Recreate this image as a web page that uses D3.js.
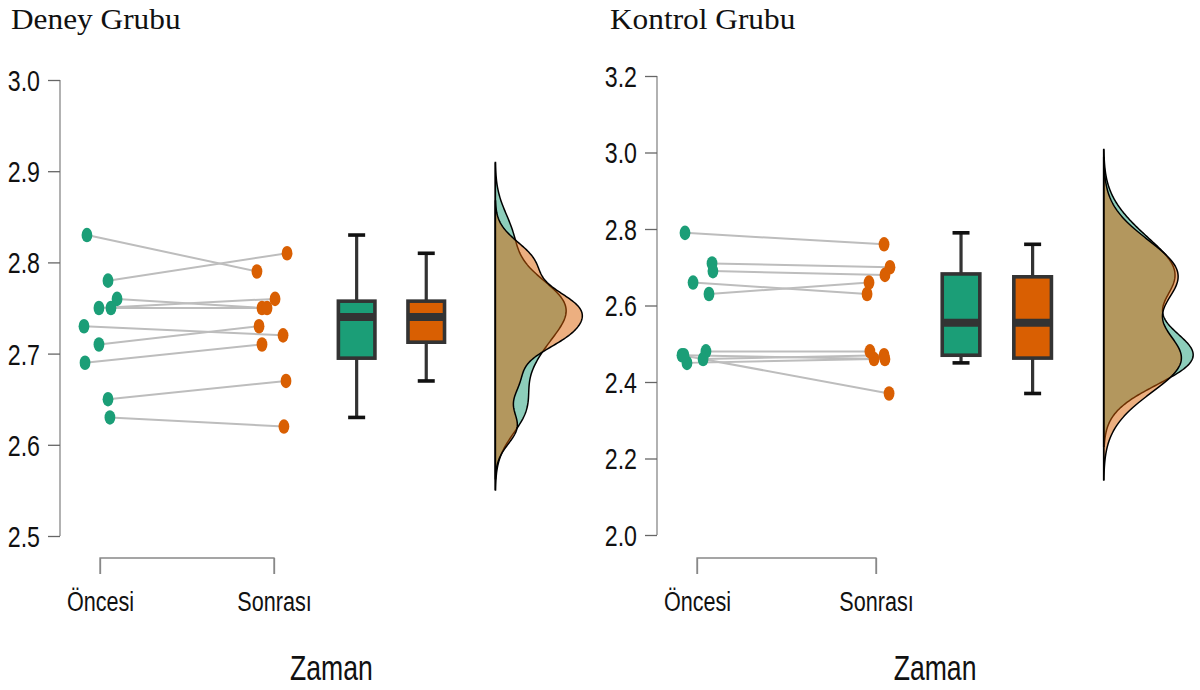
<!DOCTYPE html>
<html>
<head>
<meta charset="utf-8">
<script src="https://cdn.jsdelivr.net/npm/d3@7"></script>
<style>
  body { margin: 0; background: #fff; }
  svg { display: block; }
</style>
</head>
<body>
<svg id="chart" width="1200" height="690"></svg>
<script>
// values
const times = ["Öncesi", "Sonrası"]
const titles = ["Deney Grubu", "Kontrol Grubu"]

const deneyOncesi = [2.83, 2.78, 2.76, 2.75, 2.75, 2.73, 2.71, 2.69, 2.65, 2.63]
const deneySonrasi = [2.79, 2.81, 2.75, 2.76, 2.75, 2.72, 2.73, 2.71, 2.67, 2.62]
const kontrolOncesi = [2.79, 2.71, 2.69, 2.66, 2.63, 2.47, 2.45, 2.48, 2.46, 2.47]
const kontrolSonrasi = [2.76, 2.70, 2.68, 2.63, 2.66, 2.37, 2.46, 2.48, 2.47, 2.46]

const deneyTicks = [2.5, 2.6, 2.7, 2.8, 2.9, 3.0]
const kontrolTicks = [2.0, 2.2, 2.4, 2.6, 2.8, 3.0, 3.2]

// horizontal jitter of the dots (in units of the Öncesi→Sonrası distance)
const deneyJitOncesi = [-0.075, 0.046, 0.098, -0.006, 0.063, -0.092, -0.006, -0.086, 0.046, 0.057]
const deneyJitSonrasi = [-0.098, 0.075, -0.069, 0.006, -0.040, 0.052, -0.086, -0.069, 0.069, 0.057]
const kontrolJitOncesi = [-0.067, 0.084, 0.089, -0.022, 0.067, -0.084, -0.056, 0.050, 0.034, -0.073]
const kontrolJitSonrasi = [0.045, 0.078, 0.050, -0.050, -0.039, 0.073, -0.011, -0.034, 0.045, 0.050]

const colors = ["#1b9e77", "#d95f02"]
const sansFont = "'Liberation Sans', Arial, sans-serif"
const narrow = 0.8

const svg = d3.select("#chart")

// squash text horizontally (the original is a narrow grotesque)
function squash(sel, f) {
    sel.each(function () {
        const w = this.getComputedTextLength()
        d3.select(this).attr("textLength", w * f).attr("lengthAdjust", "spacingAndGlyphs")
    })
}

// gaussian kde, R's bw.nrd0 and cut = 3
function kde(values) {
    const v = values.slice().sort(d3.ascending)
    const n = v.length
    const iqr = d3.quantile(v, 0.75) - d3.quantile(v, 0.25)
    const bw = 0.9 * Math.min(d3.deviation(v), iqr / 1.34) * Math.pow(n, -0.2)
    const lo = v[0] - 3 * bw, hi = v[n - 1] + 3 * bw
    const pts = []
    for (let i = 0; i <= 256; i++) {
        const t = lo + (hi - lo) * i / 256
        const s = d3.sum(v, x => Math.exp(-0.5 * ((t - x) / bw) ** 2))
        pts.push([t, s / (n * bw * Math.sqrt(2 * Math.PI))])
    }
    return pts
}

function boxStats(values) {
    const v = values.slice().sort(d3.ascending)
    const q1 = d3.quantile(v, 0.25), med = d3.quantile(v, 0.5), q3 = d3.quantile(v, 0.75)
    const iqr = q3 - q1
    const lo = d3.min(v.filter(d => d >= q1 - 1.5 * iqr))
    const hi = d3.max(v.filter(d => d <= q3 + 1.5 * iqr))
    return { q1, med, q3, lo, hi }
}

function panel(cfg) {
    const { title, pre, post, jitPre, jitPost, domain, ticks, axisX, top, bottom, xPre, xPost, titleX } = cfg
    const g = svg.append("g")
    const y = d3.scaleLinear().domain(domain).range([bottom, top])
    // x in units: 0 = Öncesi, 1 = Sonrası
    const x = d3.scaleLinear().domain([0, 1]).range([xPre, xPost])
    const unit = x(1) - x(0)

    g.append("text")
        .attr("x", titleX).attr("y", 29)
        .attr("font-family", "'Liberation Serif', 'Times New Roman', serif")
        .attr("font-size", 29)
        .attr("fill", "#111")
        .text(title)
        .call(squash, 1.08)

    // y axis
    const yAxis = g.append("g")
        .attr("transform", `translate(${axisX},0)`)
        .call(d3.axisLeft(y).tickValues(ticks).tickFormat(d3.format(".1f")).tickSize(12).tickPadding(8))
    yAxis.select(".domain").attr("d", `M0,${y(domain[0])}V${y(domain[1])}`).attr("stroke", "#888").attr("stroke-width", 1.3)
    yAxis.selectAll(".tick line").attr("stroke", "#666").attr("stroke-width", 1.3)
    yAxis.selectAll(".tick text")
        .attr("font-family", sansFont).attr("font-size", 29).attr("fill", "#111")
        .attr("dy", "0.36em")
        .call(squash, narrow)

    // x axis bracket
    const xAxis = g.append("g")
        .attr("transform", `translate(0,558)`)
        .call(d3.axisBottom(d3.scalePoint().domain(times).range([x(0), x(1)])).tickSizeOuter(0).tickSizeInner(16).tickPadding(18))
    xAxis.select(".domain").attr("d", `M${x(0)},16V0H${x(1)}V16`).attr("stroke", "#888").attr("fill", "none").attr("stroke-width", 1.3)
    xAxis.selectAll(".tick line").attr("stroke", "#888").attr("stroke-width", 1.3)
    xAxis.selectAll(".tick text")
        .attr("font-family", sansFont).attr("font-size", 27).attr("fill", "#111")
        .call(squash, narrow)

    g.append("text")
        .attr("x", x(1.33)).attr("y", 680)
        .attr("text-anchor", "middle")
        .attr("font-family", sansFont).attr("font-size", 35).attr("fill", "#111")
        .text("Zaman")
        .call(squash, 0.76)

    // paired lines
    const pairs = pre.map((d, i) => ({ a: d, b: post[i], ja: jitPre[i], jb: jitPost[i] }))
    g.append("g").selectAll("line")
        .data(pairs)
        .join("line")
        .attr("x1", d => x(d.ja)).attr("y1", d => y(d.a))
        .attr("x2", d => x(1 + d.jb)).attr("y2", d => y(d.b))
        .attr("stroke", "#bdbdbd").attr("stroke-width", 2)

    const dots = [
        ...pre.map((d, i) => ({ v: d, u: jitPre[i], c: 0 })),
        ...post.map((d, i) => ({ v: d, u: 1 + jitPost[i], c: 1 }))
    ]
    g.append("g").selectAll("ellipse")
        .data(dots)
        .join("ellipse")
        .attr("cx", d => x(d.u)).attr("cy", d => y(d.v))
        .attr("rx", 5.4).attr("ry", 7.3)
        .attr("fill", d => colors[d.c])

    // box plots
    const boxW = 0.21 * unit
    const boxes = [pre, post].map((v, i) => ({ ...boxStats(v), pos: [1.475, 1.875][i], c: i }))
    const bg = g.append("g").selectAll("g").data(boxes).join("g")
    bg.append("line")
        .attr("x1", d => x(d.pos)).attr("x2", d => x(d.pos))
        .attr("y1", d => y(d.lo)).attr("y2", d => y(d.hi))
        .attr("stroke", "#333").attr("stroke-width", 3.2)
    bg.selectAll(".cap")
        .data(d => [d.lo, d.hi].map(v => ({ v, pos: d.pos })))
        .join("line")
        .attr("class", "cap")
        .attr("x1", d => x(d.pos) - 8.5).attr("x2", d => x(d.pos) + 8.5)
        .attr("y1", d => y(d.v)).attr("y2", d => y(d.v))
        .attr("stroke", "#111").attr("stroke-width", 3.6)
    bg.append("rect")
        .attr("x", d => x(d.pos) - boxW / 2).attr("width", boxW)
        .attr("y", d => y(d.q3)).attr("height", d => y(d.q1) - y(d.q3))
        .attr("fill", d => colors[d.c])
        .attr("stroke", "#333").attr("stroke-width", 3.6)
    bg.append("line")
        .attr("x1", d => x(d.pos) - boxW / 2).attr("x2", d => x(d.pos) + boxW / 2)
        .attr("y1", d => y(d.med)).attr("y2", d => y(d.med))
        .attr("stroke", "#333").attr("stroke-width", 8)

    // half densities
    const dens = [kde(pre), kde(post)]
    const maxD = d3.max(dens, p => d3.max(p, d => d[1]))
    const base = x(2.272)
    const w = d3.scaleLinear().domain([0, maxD]).range([0, 0.5 * unit])
    const area = d3.area()
        .y(d => y(d[0]))
        .x0(base)
        .x1(d => base + w(d[1]))
    g.append("g").selectAll("path")
        .data(dens)
        .join("path")
        .attr("d", area)
        .attr("fill", (d, i) => colors[i])
        .attr("fill-opacity", 0.5)
        .attr("stroke", "#000")
        .attr("stroke-width", 1.5)
    const ext = d3.extent(dens.flat(), d => d[0])
    g.append("line")
        .attr("x1", base).attr("x2", base)
        .attr("y1", y(ext[0])).attr("y2", y(ext[1]))
        .attr("stroke", "#000").attr("stroke-width", 1.5)
}

panel({
    title: titles[0], pre: deneyOncesi, post: deneySonrasi,
    jitPre: deneyJitOncesi, jitPost: deneyJitSonrasi,
    domain: [2.5, 3.0], ticks: deneyTicks,
    axisX: 60, top: 80, bottom: 536, xPre: 100, xPost: 274, titleX: 11
})
panel({
    title: titles[1], pre: kontrolOncesi, post: kontrolSonrasi,
    jitPre: kontrolJitOncesi, jitPost: kontrolJitSonrasi,
    domain: [2.0, 3.2], ticks: kontrolTicks,
    axisX: 657, top: 76, bottom: 535, xPre: 697, xPost: 876, titleX: 610
})
</script>
</body>
</html>
